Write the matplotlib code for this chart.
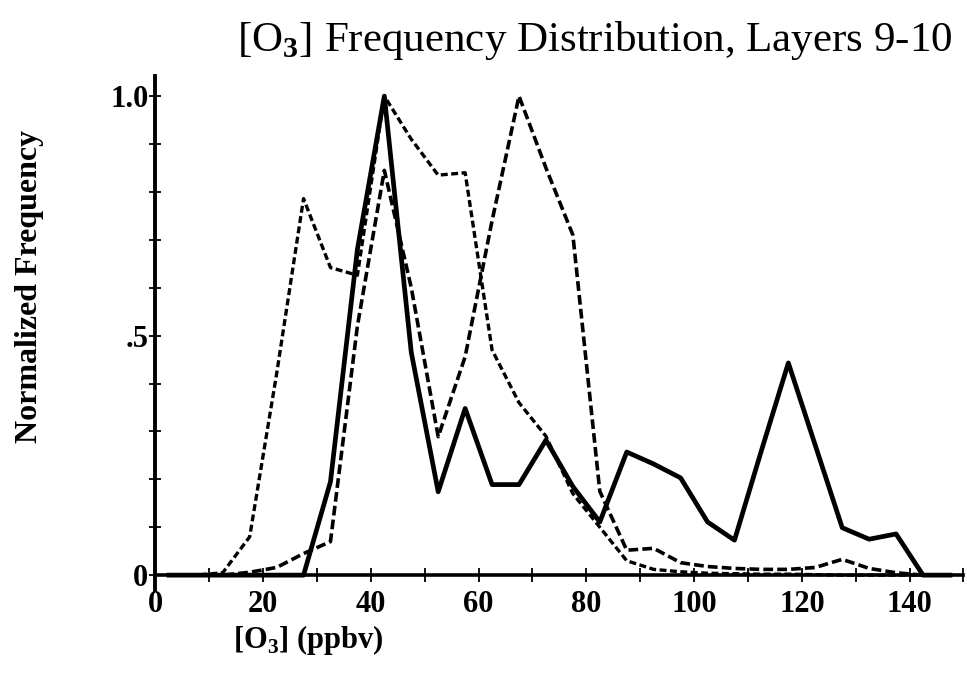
import numpy as np
import matplotlib
matplotlib.use("Agg")
import matplotlib.pyplot as plt
from matplotlib.ticker import FixedLocator, FuncFormatter

# Plot style
plt.rc('font', family='Liberation Serif', weight='bold')
plt.rc('mathtext', fontset='custom', rm='Liberation Serif', bf='Liberation Serif:bold')
plt.rcParams['lines.scale_dashes'] = False

# Bin centres (ppbv)
o3_bins = [2.5, 7.5, 12.5, 17.5, 22.5, 27.5, 32.5, 37.5, 42.5, 47.5,
           52.5, 57.5, 62.5, 67.5, 72.5, 77.5, 82.5, 87.5, 92.5, 97.5,
           102.5, 107.5, 112.5, 117.5, 122.5, 127.5, 132.5, 137.5, 142.5, 147.5]

# Normalized frequencies per bin
freq_solid = [0, 0, 0, 0, 0, 0, 0.195, 0.68, 1.0, 0.465,
              0.174, 0.348, 0.189, 0.189, 0.282, 0.185, 0.111, 0.257, 0.232, 0.203,
              0.111, 0.073, 0.26, 0.443, 0.271, 0.099, 0.075, 0.086, 0.0, 0.0]
freq_fine = [0, 0, 0.005, 0.08, 0.42, 0.786, 0.642, 0.626, 1.0, 0.91,
             0.835, 0.84, 0.47, 0.36, 0.29, 0.17, 0.10, 0.03, 0.012, 0.007,
             0.004, 0.003, 0.002, 0.002, 0.001, 0, 0, 0, 0, 0]
freq_coarse = [0, 0, 0, 0.006, 0.016, 0.045, 0.07, 0.52, 0.845, 0.60,
               0.289, 0.456, 0.74, 1.0, 0.85, 0.71, 0.175, 0.052, 0.056, 0.026,
               0.018, 0.014, 0.012, 0.012, 0.016, 0.033, 0.014, 0.005, 0.0, 0.0]

x_ticks = [0, 10, 20, 30, 40, 50, 60, 70, 80, 90, 100, 110, 120, 130, 140, 150]
x_labeled = [0, 20, 40, 60, 80, 100, 120, 140]
y_ticks = [0, 0.1, 0.2, 0.3, 0.4, 0.5, 0.6, 0.7, 0.8, 0.9, 1.0]
y_labels = {0: '0', 0.5: '.5', 1.0: '1.0'}


def y_fmt(v, pos):
    for k, lab in y_labels.items():
        if abs(v - k) < 1e-6:
            return lab
    return ''


def x_fmt(v, pos):
    return f"{int(round(v))}" if int(round(v)) in x_labeled else ''


def main():
    fig = plt.figure(figsize=(9.67, 6.79), dpi=100)
    ax = fig.add_axes([0.1607, 0.1311, 0.8356, 0.757])

    ax.plot(o3_bins, freq_fine, color='black', lw=2.4, dashes=(5, 2.5),
            clip_on=False)
    ax.plot(o3_bins, freq_coarse, color='black', lw=2.6, dashes=(7, 3),
            clip_on=False)
    ax.plot(o3_bins, freq_solid, color='black', lw=3.4, clip_on=False)

    ax.set_xlim(0, 150)
    ax.set_ylim(-0.031, 1.042)

    for side in ('top', 'right'):
        ax.spines[side].set_visible(False)
    ax.spines['bottom'].set_position(('data', 0))
    ax.spines['bottom'].set_linewidth(2.6)
    ax.spines['left'].set_linewidth(2.8)

    ax.xaxis.set_major_locator(FixedLocator(x_ticks))
    ax.xaxis.set_major_formatter(FuncFormatter(x_fmt))
    ax.yaxis.set_major_locator(FixedLocator(y_ticks))
    ax.yaxis.set_major_formatter(FuncFormatter(y_fmt))
    ax.tick_params(axis='x', direction='inout', length=10, width=1.3,
                   labelsize=22, pad=6)
    ax.tick_params(axis='y', direction='inout', length=8, width=1.3,
                   labelsize=22, pad=1)

    fig.text(0.615, 0.94, r'[O$_3$] Frequency Distribution, Layers 9-10',
             ha='center', va='center', fontsize=31, fontweight='normal')
    fig.text(0.03, 0.578, 'Normalized Frequency', rotation=90,
             ha='center', va='center', fontsize=23)
    fig.text(0.241, 0.058, r'[O$_\mathbf{3}$] (ppbv)',
             ha='left', va='center', fontsize=22)

    fig.savefig('out.png', dpi=100)


if __name__ == "__main__":
    main()
